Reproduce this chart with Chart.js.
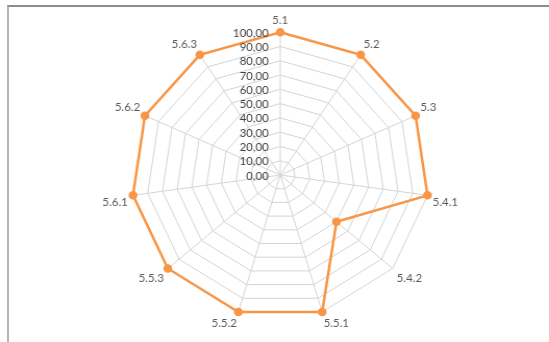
<!DOCTYPE html>
<html>
<head>
<meta charset="utf-8">
<script src="https://cdn.jsdelivr.net/npm/chart.js@4/dist/chart.umd.min.js"></script>
<style>
  html, body { margin: 0; padding: 0; background: #ffffff; overflow: hidden; width: 549px; height: 342px; }
  #frame {
    position: absolute; left: 7px; top: 5px; width: 600px; height: 400px;
    border-top: 2px solid #8c8c8c; border-left: 2px solid #b4b4b4;
  }
  /* plot is drawn slightly wider than tall */
  #wrap { position: absolute; left: 0; top: 0; width: 527px; height: 342px;
          transform: scaleX(1.0418); transform-origin: 0 0; }
</style>
</head>
<body>
<div id="frame"></div>
<div id="wrap"><canvas id="chart" width="527" height="342"></canvas></div>
<script>
// Section scores on the radar
const categories = ['5.1', '5.2', '5.3', '5.4.1', '5.4.2', '5.5.1', '5.5.2', '5.5.3', '5.6.1', '5.6.2', '5.6.3'];
const scores = [100, 100, 100, 100, 50, 100, 100, 100, 100, 100, 100];
const tickValues = [0, 10, 20, 30, 40, 50, 60, 70, 80, 90, 100];

const fmt = v => v.toFixed(2).replace('.', ',');

// Tick labels sit just left of the vertical axis, right-aligned
const leftTicks = {
  id: 'leftTicks',
  afterDatasetsDraw(chart) {
    const s = chart.scales.r;
    const ctx = chart.ctx;
    ctx.save();
    ctx.font = '11px Lato';
    ctx.fillStyle = '#404040';
    ctx.textAlign = 'right';
    ctx.textBaseline = 'middle';
    tickValues.forEach(v => {
      const d = s.getDistanceFromCenterForValue(v);
      ctx.fillText(fmt(v), s.xCenter - 11, s.yCenter - d + 1);
    });
    ctx.restore();
  }
};

new Chart(document.getElementById('chart'), {
  type: 'radar',
  data: {
    labels: categories,
    datasets: [{
      data: scores,
      borderColor: '#F79646',
      backgroundColor: '#F79646',
      borderWidth: 2.5,
      fill: false,
      pointRadius: 3,
      pointBackgroundColor: '#F79646',
      pointBorderColor: '#F79646',
      tension: 0
    }]
  },
  options: {
    responsive: false,
    animation: false,
    devicePixelRatio: 1,
    layout: { padding: { left: 12, right: 0, top: 11, bottom: 8 } },
    plugins: { legend: { display: false }, tooltip: { enabled: false } },
    scales: {
      r: {
        min: 0,
        max: 100,
        ticks: { stepSize: 10, display: false },
        grid: { color: '#d4d4d4', lineWidth: 1 },
        angleLines: { color: '#d4d4d4', lineWidth: 1 },
        pointLabels: { font: { family: 'Lato', size: 11 }, color: '#595959', padding: 5 }
      }
    }
  },
  plugins: [leftTicks]
});
</script>
</body>
</html>
